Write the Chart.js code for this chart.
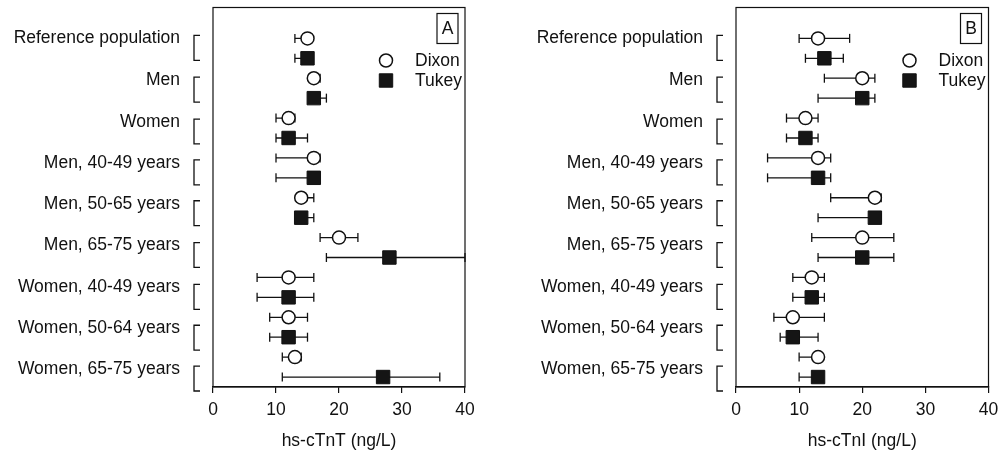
<!DOCTYPE html>
<html>
<head>
<meta charset="utf-8">
<script src="https://cdn.jsdelivr.net/npm/chart.js@4.4.1/dist/chart.umd.min.js"></script>
<style>
  html, body { margin: 0; padding: 0; background: #fff; overflow: hidden; }
  #wrap { position: relative; width: 999px; height: 456px; overflow: hidden; }
  /* chart area top never goes above 10px, so lift canvases 3px */
  canvas { position: absolute; top: -3px; }
  #panelA { left: 0; }
  #panelB { left: 523px; }
</style>
</head>
<body>
<div id="wrap">
  <canvas id="panelA" width="500" height="459"></canvas>
  <canvas id="panelB" width="476" height="459"></canvas>
</div>
<script>
// ---- data ----
const categories = [
  'Reference population', 'Men', 'Women',
  'Men, 40-49 years', 'Men, 50-65 years', 'Men, 65-75 years',
  'Women, 40-49 years', 'Women, 50-64 years', 'Women, 65-75 years'
];
// where each group label sits on the row axis (rows: Dixon = 2i, Tukey = 2i+1)
const labelRows = [0, 2.1, 4.2, 6.25, 8.3, 10.4, 12.5, 14.55, 16.6];
const xTicks = [0, 10, 20, 30, 40];

// panel A: hs-cTnT
const tntDixon    = [15, 16, 12, 16, 14,   20, 12, 12, 13];
const tntDixonLo  = [13, 16, 10, 10, 13.5, 17,  7,  9, 11];
const tntDixonHi  = [15, 17, 13, 17, 16,   23, 16, 15, 14];
const tntTukey    = [15, 16, 12, 16, 14,   28, 12, 12, 27];
const tntTukeyLo  = [13, 16, 10, 10, 14,   18,  7,  9, 11];
const tntTukeyHi  = [15, 18, 15, 16, 16,   40, 16, 15, 36];

// panel B: hs-cTnI
const tniDixon    = [13, 20, 11, 13, 22, 20, 12,  9, 13];
const tniDixonLo  = [10, 14,  8,  5, 15, 12,  9,  6, 10];
const tniDixonHi  = [18, 22, 13, 15, 23, 25, 14, 14, 13];
const tniTukey    = [14, 20, 11, 13, 22, 20, 12,  9, 13];
const tniTukeyLo  = [11, 13,  8,  5, 13, 13,  9,  7, 10];
const tniTukeyHi  = [17, 22, 13, 15, 23, 25, 14, 13, 13];

const INK = '#111';
const FONT = { family: '"Liberation Sans", Arial, sans-serif', size: 17.5 };

const dixonStyle = { pointStyle: 'circle', radius: 6.5, borderWidth: 1.5, fill: '#fff' };
const tukeyStyle = { pointStyle: 'rect', radius: 9.5, borderWidth: 1, fill: '#151515' };

// marker points
function markerPoints(values, offset) {
  return values.map((v, i) => ({ x: v, y: i * 2 + offset }));
}

// error bar segments: lo -> hi, broken by a null point
function errorPoints(lo, hi, offset) {
  const pts = [];
  lo.forEach((l, i) => {
    const row = i * 2 + offset;
    pts.push({ x: l, y: row }, { x: hi[i], y: row }, { x: null, y: null });
  });
  return pts;
}

// frame, brackets, legend and panel letter
const panelDecor = {
  id: 'panelDecor',
  afterDatasetsDraw(chart, args, opts) {
    const { ctx, chartArea: a, scales: { y } } = chart;
    ctx.save();
    ctx.strokeStyle = INK;
    ctx.lineWidth = 1.2;
    ctx.strokeRect(a.left, a.top, a.right - a.left, a.bottom - a.top);

    // brackets left of the axis
    ctx.lineWidth = 1.3;
    labelRows.forEach(v => {
      const y1 = y.getPixelForValue(v - 0.15);
      const y2 = y.getPixelForValue(v + 1.1);
      ctx.beginPath();
      ctx.moveTo(a.left - 13, y1);
      ctx.lineTo(a.left - 19, y1);
      ctx.lineTo(a.left - 19, y2);
      ctx.lineTo(a.left - 13, y2);
      ctx.stroke();
    });

    // legend
    const lx = a.right - 79;
    const rows = [['Dixon', dixonStyle], ['Tukey', tukeyStyle]];
    ctx.font = `${FONT.size}px ${FONT.family}`;
    ctx.textBaseline = 'middle';
    ctx.textAlign = 'left';
    rows.forEach(([name, st], k) => {
      const ly = a.top + 53 + k * 20;
      ctx.fillStyle = st.fill;
      ctx.strokeStyle = INK;
      ctx.lineWidth = st.borderWidth;
      Chart.helpers.drawPoint(ctx, { pointStyle: st.pointStyle, radius: st.radius, borderWidth: st.borderWidth, rotation: 0 }, lx, ly);
      ctx.fillStyle = INK;
      ctx.fillText(name, lx + 29, ly + 1);
    });

    // panel letter box
    ctx.lineWidth = 1.2;
    ctx.strokeStyle = INK;
    ctx.strokeRect(a.right - 28, a.top + 6, 21, 30);
    ctx.textAlign = 'center';
    ctx.fillText(opts.letter, a.right - 17.5, a.top + 22);
    ctx.restore();
  }
};

function buildPanel(canvasId, letter, axisTitle, dixon, dLo, dHi, tukey, tLo, tHi, rightPad) {
  const ctx = document.getElementById(canvasId).getContext('2d');
  return new Chart(ctx, {
    type: 'scatter',
    data: {
      datasets: [
        {
          label: 'Tukey',
          data: markerPoints(tukey, 1),
          pointStyle: tukeyStyle.pointStyle,
          pointRadius: tukeyStyle.radius,
          pointBackgroundColor: tukeyStyle.fill,
          pointBorderColor: INK,
          pointBorderWidth: tukeyStyle.borderWidth,
          order: 0
        },
        {
          label: 'Dixon',
          data: markerPoints(dixon, 0),
          pointStyle: dixonStyle.pointStyle,
          pointRadius: dixonStyle.radius,
          pointBackgroundColor: dixonStyle.fill,
          pointBorderColor: INK,
          pointBorderWidth: dixonStyle.borderWidth,
          order: 1
        },
        {
          label: 'range',
          data: errorPoints(dLo, dHi, 0).concat(errorPoints(tLo, tHi, 1)),
          showLine: true,
          spanGaps: false,
          borderColor: INK,
          borderWidth: 1.3,
          pointStyle: 'line',
          pointRotation: 90,
          pointRadius: 4.5,
          pointBorderColor: INK,
          pointBorderWidth: 1.3,
          clip: false,
          order: 2
        }
      ]
    },
    options: {
      responsive: false,
      animation: false,
      devicePixelRatio: 1,
      layout: { padding: { left: 0, right: rightPad, top: 4, bottom: 0 } },
      plugins: {
        legend: { display: false },
        tooltip: { enabled: false },
        panelDecor: { letter }
      },
      scales: {
        x: {
          type: 'linear',
          min: 0,
          max: 40,
          afterBuildTicks: (scale) => { scale.ticks = xTicks.map(v => ({ value: v })); },
          afterFit: (scale) => {
            scale.height = 69;
            scale.paddingLeft = 0;
            scale.paddingRight = 0;
          },
          ticks: { color: INK, font: FONT, padding: 7 },
          grid: { drawOnChartArea: false, drawTicks: true, tickLength: 6, color: INK, lineWidth: 1.2 },
          border: { display: true, color: INK, width: 1.2 },
          title: { display: true, text: axisTitle, color: INK, font: FONT, padding: { top: 0, bottom: 4 } }
        },
        y: {
          type: 'linear',
          reverse: true,
          min: -1.55,
          max: 17.5,
          afterBuildTicks: (scale) => { scale.ticks = labelRows.map(v => ({ value: v })); },
          afterFit: (scale) => {
            scale.width = 213;
            scale.paddingTop = 0;
            scale.paddingBottom = 0;
          },
          ticks: {
            color: INK,
            font: FONT,
            padding: 33,
            autoSkip: false,
            callback: (v, i) => categories[i]
          },
          grid: { display: false, drawTicks: false },
          border: { display: false }
        }
      }
    },
    plugins: [panelDecor]
  });
}

buildPanel('panelA', 'A', 'hs-cTnT (ng/L)', tntDixon, tntDixonLo, tntDixonHi, tntTukey, tntTukeyLo, tntTukeyHi, 35);
buildPanel('panelB', 'B', 'hs-cTnI (ng/L)', tniDixon, tniDixonLo, tniDixonHi, tniTukey, tniTukeyLo, tniTukeyHi, 10);
</script>
</body>
</html>
